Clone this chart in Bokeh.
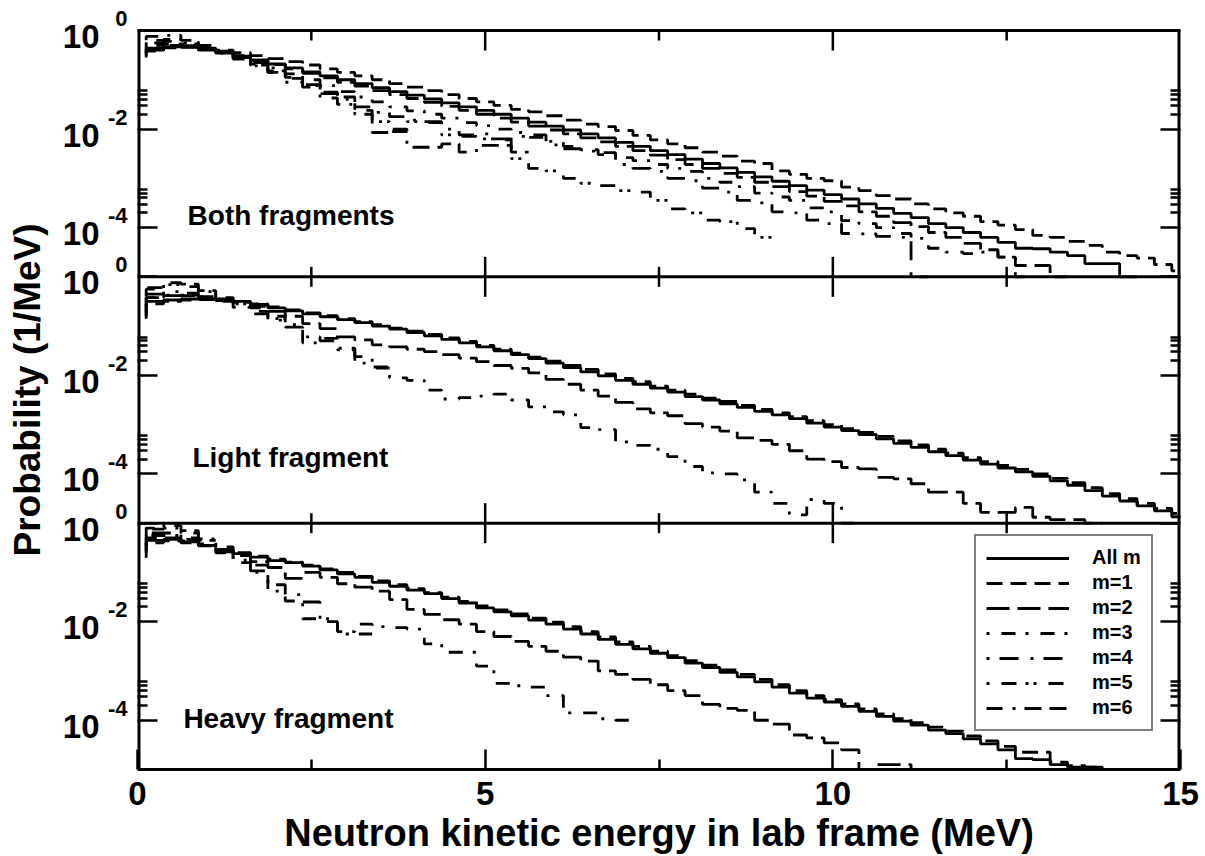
import numpy as np
from bokeh.plotting import figure
from bokeh.models import (FixedTicker, LogAxis, Span, Label, Legend,
                          LegendItem, CustomJSTickFormatter)
from bokeh.embed import file_html
from bokeh.resources import INLINE

FONT = "Liberation Sans"

# ---------------------------------------------------------------- data
# Histogram points every 0.25 MeV, starting at 0.125 MeV.  Value k is the level
# shown between point k-1 and point k (value 0 is the start of the line).
# Values are decades below 1, i.e. -log10(probability in 1/MeV); 6 = empty bin.
energy_points_mev = 0.125 + 0.25 * np.arange(61)

series_names = ["All m", "m=1", "m=2", "m=3", "m=4", "m=5", "m=6"]
panel_names = ["Both fragments", "Light fragment", "Heavy fragment"]

both_all = [0.50,0.40,0.33,0.34,0.40,0.46,0.52,0.60,0.68,0.76,0.84,0.92,1.00,1.08,1.16,1.24,1.31,1.39,1.47,1.55,
            1.62,1.70,1.78,1.86,1.94,2.02,2.10,2.18,2.27,2.35,2.44,2.52,2.61,2.70,2.79,2.88,2.97,3.06,3.15,3.24,
            3.33,3.42,3.52,3.61,3.71,3.80,3.92,4.00,4.10,4.20,4.30,4.42,4.43,4.50,4.57,4.73,4.73,6]
both_m1 = [0.55,0.42,0.35,0.33,0.36,0.40,0.45,0.51,0.57,0.63,0.70,0.78,0.85,0.92,1.00,1.08,1.15,1.22,1.30,1.38,
           1.45,1.52,1.60,1.65,1.73,1.82,1.90,1.95,2.03,2.13,2.22,2.30,2.38,2.47,2.55,2.65,2.70,2.85,2.92,3.00,
           3.05,3.18,3.25,3.35,3.42,3.52,3.62,3.70,3.77,3.88,3.95,4.04,4.16,4.20,4.28,4.36,4.50,4.57,4.62,4.75,4.88]
both_m2 = [0.45,0.36,0.30,0.31,0.37,0.44,0.51,0.60,0.69,0.78,0.87,0.96,1.05,1.13,1.22,1.30,1.38,1.46,1.54,1.62,
           1.70,1.78,1.86,1.94,2.02,2.10,2.18,2.26,2.35,2.44,2.53,2.62,2.72,2.80,2.90,2.98,3.08,3.17,3.27,3.36,
           3.47,3.56,3.68,3.77,3.90,3.98,4.10,4.20,4.32,4.45,4.60,4.77,4.77,6]
both_m3 = [0.40,0.30,0.27,0.30,0.37,0.45,0.55,0.65,0.76,0.88,1.00,1.12,1.24,1.35,1.45,1.55,1.63,1.70,1.78,1.87,
           1.93,2.00,2.07,2.17,2.25,2.35,2.42,2.52,2.58,2.64,2.72,2.80,2.86,3.00,3.08,3.17,3.30,3.38,3.45,3.60,
           3.68,3.86,3.92,4.00,4.12,4.22,4.42,4.50,4.53,4.50,4.60,6]
both_m4 = [0.35,0.25,0.22,0.27,0.35,0.45,0.56,0.70,0.85,0.97,1.12,1.28,1.40,1.55,1.66,1.75,1.82,1.85,2.00,2.12,
           2.10,2.20,2.15,2.12,2.32,2.40,2.45,2.48,2.72,2.80,2.86,3.00,3.05,3.20,3.28,3.45,3.50,3.68,3.70,3.85,
           3.92,4.12,4.13,4.18,4.20,6]
both_m5 = [0.30,0.20,0.18,0.25,0.35,0.46,0.58,0.72,0.85,1.05,1.15,1.37,1.50,1.62,1.85,2.05,1.85,1.87,2.12,2.15,
           2.20,2.22,2.60,2.80,2.85,3.00,3.10,3.15,3.25,3.28,3.45,3.62,3.70,3.85,3.88,4.02,4.20]
both_m6 = [0.20,0.12,0.10,0.20,0.30,0.42,0.55,0.68,0.82,0.95,1.10,1.25,1.35,1.70,2.07,2.00,2.37,2.37,2.30,2.47,
           2.33,2.33,2.47]

light_all = [0.80,0.50,0.47,0.45,0.45,0.47,0.50,0.56,0.63,0.69,0.75,0.81,0.87,0.93,1.00,1.06,1.13,1.20,1.27,1.34,
             1.42,1.50,1.58,1.66,1.75,1.84,1.93,2.01,2.10,2.18,2.26,2.34,2.43,2.50,2.58,2.65,2.73,2.80,2.88,2.97,
             3.05,3.12,3.20,3.29,3.38,3.46,3.55,3.63,3.72,3.80,3.88,3.96,4.05,4.14,4.23,4.34,4.45,4.55,4.65,4.75,4.87]
light_m1 = [0.85,0.55,0.50,0.47,0.46,0.47,0.50,0.55,0.61,0.67,0.73,0.79,0.85,0.91,0.97,1.04,1.10,1.17,1.24,1.31,
            1.39,1.47,1.55,1.63,1.71,1.80,1.88,1.97,2.06,2.13,2.22,2.30,2.38,2.46,2.53,2.61,2.69,2.76,2.84,2.92,
            3.00,3.08,3.16,3.24,3.33,3.41,3.50,3.58,3.67,3.75,3.83,3.91,4.00,4.09,4.18,4.28,4.40,4.50,4.60,4.70,4.80]
light_m2 = [0.70,0.42,0.38,0.37,0.40,0.45,0.52,0.60,0.70,0.80,0.95,1.05,1.22,1.28,1.38,1.42,1.47,1.52,1.58,1.65,
            1.72,1.80,1.86,1.95,2.08,2.18,2.30,2.42,2.55,2.68,2.76,2.82,2.98,3.05,3.13,3.27,3.32,3.40,3.53,3.70,
            3.75,3.87,3.90,4.07,4.10,4.20,4.37,4.37,4.60,4.78,4.78,4.68,4.88,4.93,4.93,6]
light_m3 = [0.75,0.42,0.37,0.38,0.42,0.48,0.55,0.63,0.80,0.97,1.34,1.25,1.48,1.75,1.83,2.05,2.10,2.30,2.48,2.45,
            2.42,2.38,2.50,2.64,2.74,2.80,3.06,3.10,3.35,3.42,3.50,3.65,3.85,3.98,4.00,4.12,4.37,4.60,4.83,4.52,
            4.60,6]
light_m4 = [0.60,0.35,0.30,0.33,0.40,0.50,0.62,0.75,0.88,1.02,1.22,1.30,1.45,1.62,1.85]
light_m5 = [0.50,0.22,0.16,0.20,0.30,0.42,0.55,0.70,0.85]
light_m6 = [0.40,0.25,0.12,0.15,0.28,0.45]

heavy_all = [0.60,0.35,0.33,0.38,0.45,0.54,0.62,0.69,0.76,0.80,0.87,0.95,1.03,1.10,1.20,1.28,1.36,1.43,1.53,1.62,
             1.72,1.80,1.88,1.97,2.05,2.15,2.25,2.36,2.46,2.55,2.64,2.73,2.84,2.93,3.03,3.12,3.22,3.33,3.45,3.55,
             3.63,3.72,3.82,3.92,4.02,4.10,4.20,4.27,4.38,4.48,4.60,4.78,4.80,4.90,4.95,4.95,6]
heavy_m1 = [0.70,0.40,0.36,0.40,0.46,0.54,0.60,0.67,0.73,0.79,0.85,0.93,1.00,1.08,1.17,1.25,1.33,1.41,1.50,1.59,
            1.68,1.76,1.84,1.93,2.01,2.10,2.20,2.31,2.41,2.50,2.60,2.69,2.79,2.88,2.98,3.07,3.17,3.28,3.40,3.50,
            3.58,3.67,3.77,3.87,3.97,4.05,4.14,4.22,4.32,4.42,4.53,4.65,4.65,4.85,4.92,4.95,6]
heavy_m2 = [0.55,0.30,0.30,0.36,0.45,0.55,0.66,0.78,0.90,1.12,1.00,1.10,1.23,1.30,1.38,1.55,1.75,1.85,1.96,2.05,
            2.20,2.30,2.40,2.50,2.60,2.72,2.80,3.00,3.07,3.17,3.28,3.40,3.50,3.68,3.76,3.80,4.00,4.08,4.30,4.36,
            4.46,4.60,6,4.90,4.90,6]
heavy_m3 = [0.45,0.25,0.25,0.33,0.45,0.60,0.80,1.00,1.38,1.58,1.94,1.94,2.20,2.05,2.10,2.12,2.15,2.45,2.62,2.62,
            2.90,3.25,3.30,3.33,3.50,3.85,3.85,3.97,4.00]
heavy_m4 = [0.35,0.20,0.20,0.30,0.42,0.58,0.75,0.97,1.25,1.45,1.60,2.00,2.25,2.25]
heavy_m5 = [0.30,0.12,0.10,0.20,0.32,0.48,0.65,0.85]
heavy_m6 = [0.25,0.10,0.05,0.15,0.35]

panels = [
    [both_all, both_m1, both_m2, both_m3, both_m4, both_m5, both_m6],
    [light_all, light_m1, light_m2, light_m3, light_m4, light_m5, light_m6],
    [heavy_all, heavy_m1, heavy_m2, heavy_m3, heavy_m4, heavy_m5, heavy_m6],
]

x_major = [0, 5, 10, 15]
x_minor = [2.5, 7.5, 12.5]
y_major_exp = [0, -2, -4]
y_minor_mult = [2, 3, 4, 5, 6]

# ---------------------------------------------------------------- style
dash_styles = ["solid", "16 8", "23 8", "3 12 14 10", "3 10 19 12", "3 12 15 9 3 5", "16 10 3 9 17 8 17 8"]
panel_decades = 5          # each panel shows 1e-5 .. 1
LW = 2.8                   # curves
TW = 2.5                   # ticks

W, H = 1205, 856
BL, BR, BB = 137, 25, 87
BOX_TOP = 30               # pixel row of the top edge of the boxes
PAD = 20                   # white strip above the top box that belongs to the frame
px_per_decade = (H - BOX_TOP - BB) / (3 * panel_decades)
pad_dec = PAD / px_per_decade
base_shift = 6.0 / px_per_decade     # "10" sits a little below its tick
sup_shift = 12.0 / px_per_decade     # exponent sits a little above its tick

p = figure(width=W, height=H, x_range=(0, 15),
           y_range=(10.0 ** (-3 * panel_decades), 10.0 ** pad_dec),
           y_axis_type="log", output_backend="svg", toolbar_location=None,
           min_border_left=BL, min_border_right=BR, min_border_top=BOX_TOP - PAD,
           min_border_bottom=BB)
p.title.visible = False
p.grid.visible = False
p.outline_line_color = None
p.background_fill_color = "white"
p.border_fill_color = "white"

def panel_scale(k):
    return 10.0 ** (-panel_decades * k)

# ---- curves
legend_renderers = {}
for k, series in enumerate(panels):
    for s in reversed(range(len(series))):
        dec = np.array(series[s], dtype=float)
        prob = np.clip(10.0 ** (-dec), 10.0 ** (-panel_decades), 1.0) * panel_scale(k)
        xs = energy_points_mev[:len(dec)]
        r = p.step(xs, prob, mode="before", line_color="black", line_width=LW,
                   line_dash=dash_styles[s])
        if k == 0:
            legend_renderers[s] = r

# ---- box edges: sides (half of a 6px line is clipped away), top and separators
ymin = 10.0 ** (-3 * panel_decades)
p.segment(x0=[0, 15], y0=[ymin, ymin], x1=[0, 15], y1=[1.0, 1.0], line_color="black", line_width=6)
for k in (0, 1, 2):
    p.add_layout(Span(location=panel_scale(k), dimension="width", line_color="black", line_width=3))

# ---- ticks
x_ticker = FixedTicker(ticks=x_major, minor_ticks=x_minor)
y_ticks, y_minor, base_pos, sup_pos = [], [], [], []
for k in range(3):
    for e in y_major_exp:
        y_ticks.append(10.0 ** e * panel_scale(k))
        base_pos.append(10.0 ** (e - base_shift) * panel_scale(k))
        sup_pos.append(10.0 ** (e + sup_shift) * panel_scale(k))
        if e < 0:
            for m in y_minor_mult:
                y_minor.append(m * 10.0 ** e * panel_scale(k))
y_ticker = FixedTicker(ticks=y_ticks, minor_ticks=y_minor)
blank = CustomJSTickFormatter(code="return ''")

def style_axis(ax):
    ax.axis_line_width = 3
    ax.major_tick_in = 20
    ax.major_tick_out = 0
    ax.minor_tick_in = 10
    ax.minor_tick_out = 0
    ax.major_tick_line_width = TW
    ax.minor_tick_line_width = TW

xa = p.xaxis[0]
xa.ticker = x_ticker
style_axis(xa)
xa.major_label_text_font = FONT
xa.major_label_text_font_style = "bold"
xa.major_label_text_font_size = "33px"
xa.major_label_text_color = "black"
xa.major_label_standoff = 12
xa.axis_label = "Neutron kinetic energy in lab frame (MeV)"
xa.axis_label_text_font = FONT
xa.axis_label_text_font_style = "bold"
xa.axis_label_text_font_size = "38px"
xa.axis_label_text_color = "black"
xa.axis_label_standoff = 4

# left axis with the tick marks only (the box side is drawn above)
ya = p.yaxis[0]
ya.ticker = y_ticker
ya.formatter = blank
ya.major_label_text_font_size = "1px"
ya.major_label_standoff = 0
style_axis(ya)
ya.axis_line_color = None

def label_axis(ticks, code, size, standoff):
    ax = LogAxis(ticker=FixedTicker(ticks=ticks, minor_ticks=[]),
                 formatter=CustomJSTickFormatter(code=code))
    ax.axis_line_color = None
    ax.major_tick_line_color = None
    ax.minor_tick_line_color = None
    ax.major_tick_in = 0
    ax.major_tick_out = 0
    ax.major_label_standoff = standoff
    ax.major_label_text_font = FONT
    ax.major_label_text_font_style = "bold"
    ax.major_label_text_font_size = size
    ax.major_label_text_color = "black"
    return ax

# exponents (superscripts), closest to the frame
sup_code = ("const r = Math.log10(tick) - %r;" % sup_shift +
            "const k = Math.floor(-r / %d + 1e-6);" % panel_decades +
            "return String(Math.round(r + %d * k));" % panel_decades)
sup_axis = label_axis(sup_pos, sup_code, "22px", 10)
p.add_layout(sup_axis, "left")

# the "10" mantissas, plus the y-axis title
base_axis = label_axis(base_pos, "return '10';", "33px", 5)
base_axis.axis_label = "Probability (1/MeV)"
base_axis.axis_label_text_font = FONT
base_axis.axis_label_text_font_style = "bold"
base_axis.axis_label_text_font_size = "37px"
base_axis.axis_label_text_color = "black"
base_axis.axis_label_standoff = 12
p.add_layout(base_axis, "left")

right = LogAxis(ticker=y_ticker, formatter=blank, major_label_text_font_size="1px")
style_axis(right)
right.axis_line_color = None
p.add_layout(right, "right")

# top edge ticks and the inner ticks along the panel separators
def edge_ticks(b, up, down):
    for t in x_major[1:-1] + x_minor:
        L = 20 if t in x_major else 10
        f = 10.0 ** (L / px_per_decade)
        p.segment(x0=[t], y0=[b / f if down else b], x1=[t], y1=[b * f if up else b],
                  line_color="black", line_width=TW)

edge_ticks(1.0, False, True)
for k in (1, 2):
    edge_ticks(panel_scale(k), True, True)

# ---- panel names
name_pos = [(0.72, 3.75), (0.79, 3.67), (0.66, 3.96)]
for k, (nm, (xe, yd)) in enumerate(zip(panel_names, name_pos)):
    p.add_layout(Label(x=xe, y=10.0 ** (-yd) * panel_scale(k), text=nm, text_align="left",
                       text_baseline="alphabetic", text_font=FONT, text_font_style="bold",
                       text_font_size="28px", text_color="black"))

# ---- legend
items = [LegendItem(label=series_names[s], renderers=[legend_renderers[s]]) for s in range(7)]
legend = Legend(items=items, location=(837, 38))
legend.glyph_width = 83
legend.glyph_height = 20
legend.label_standoff = 23
legend.padding = 10
legend.spacing = 2
legend.margin = 0
legend.label_text_font = FONT
legend.label_text_font_style = "bold"
legend.label_text_font_size = "20px"
legend.label_text_color = "black"
legend.border_line_color = "black"
legend.border_line_width = 2.5
legend.background_fill_color = "white"
legend.background_fill_alpha = 1.0
p.add_layout(legend)

open("out.html", "w").write(file_html(p, INLINE))
